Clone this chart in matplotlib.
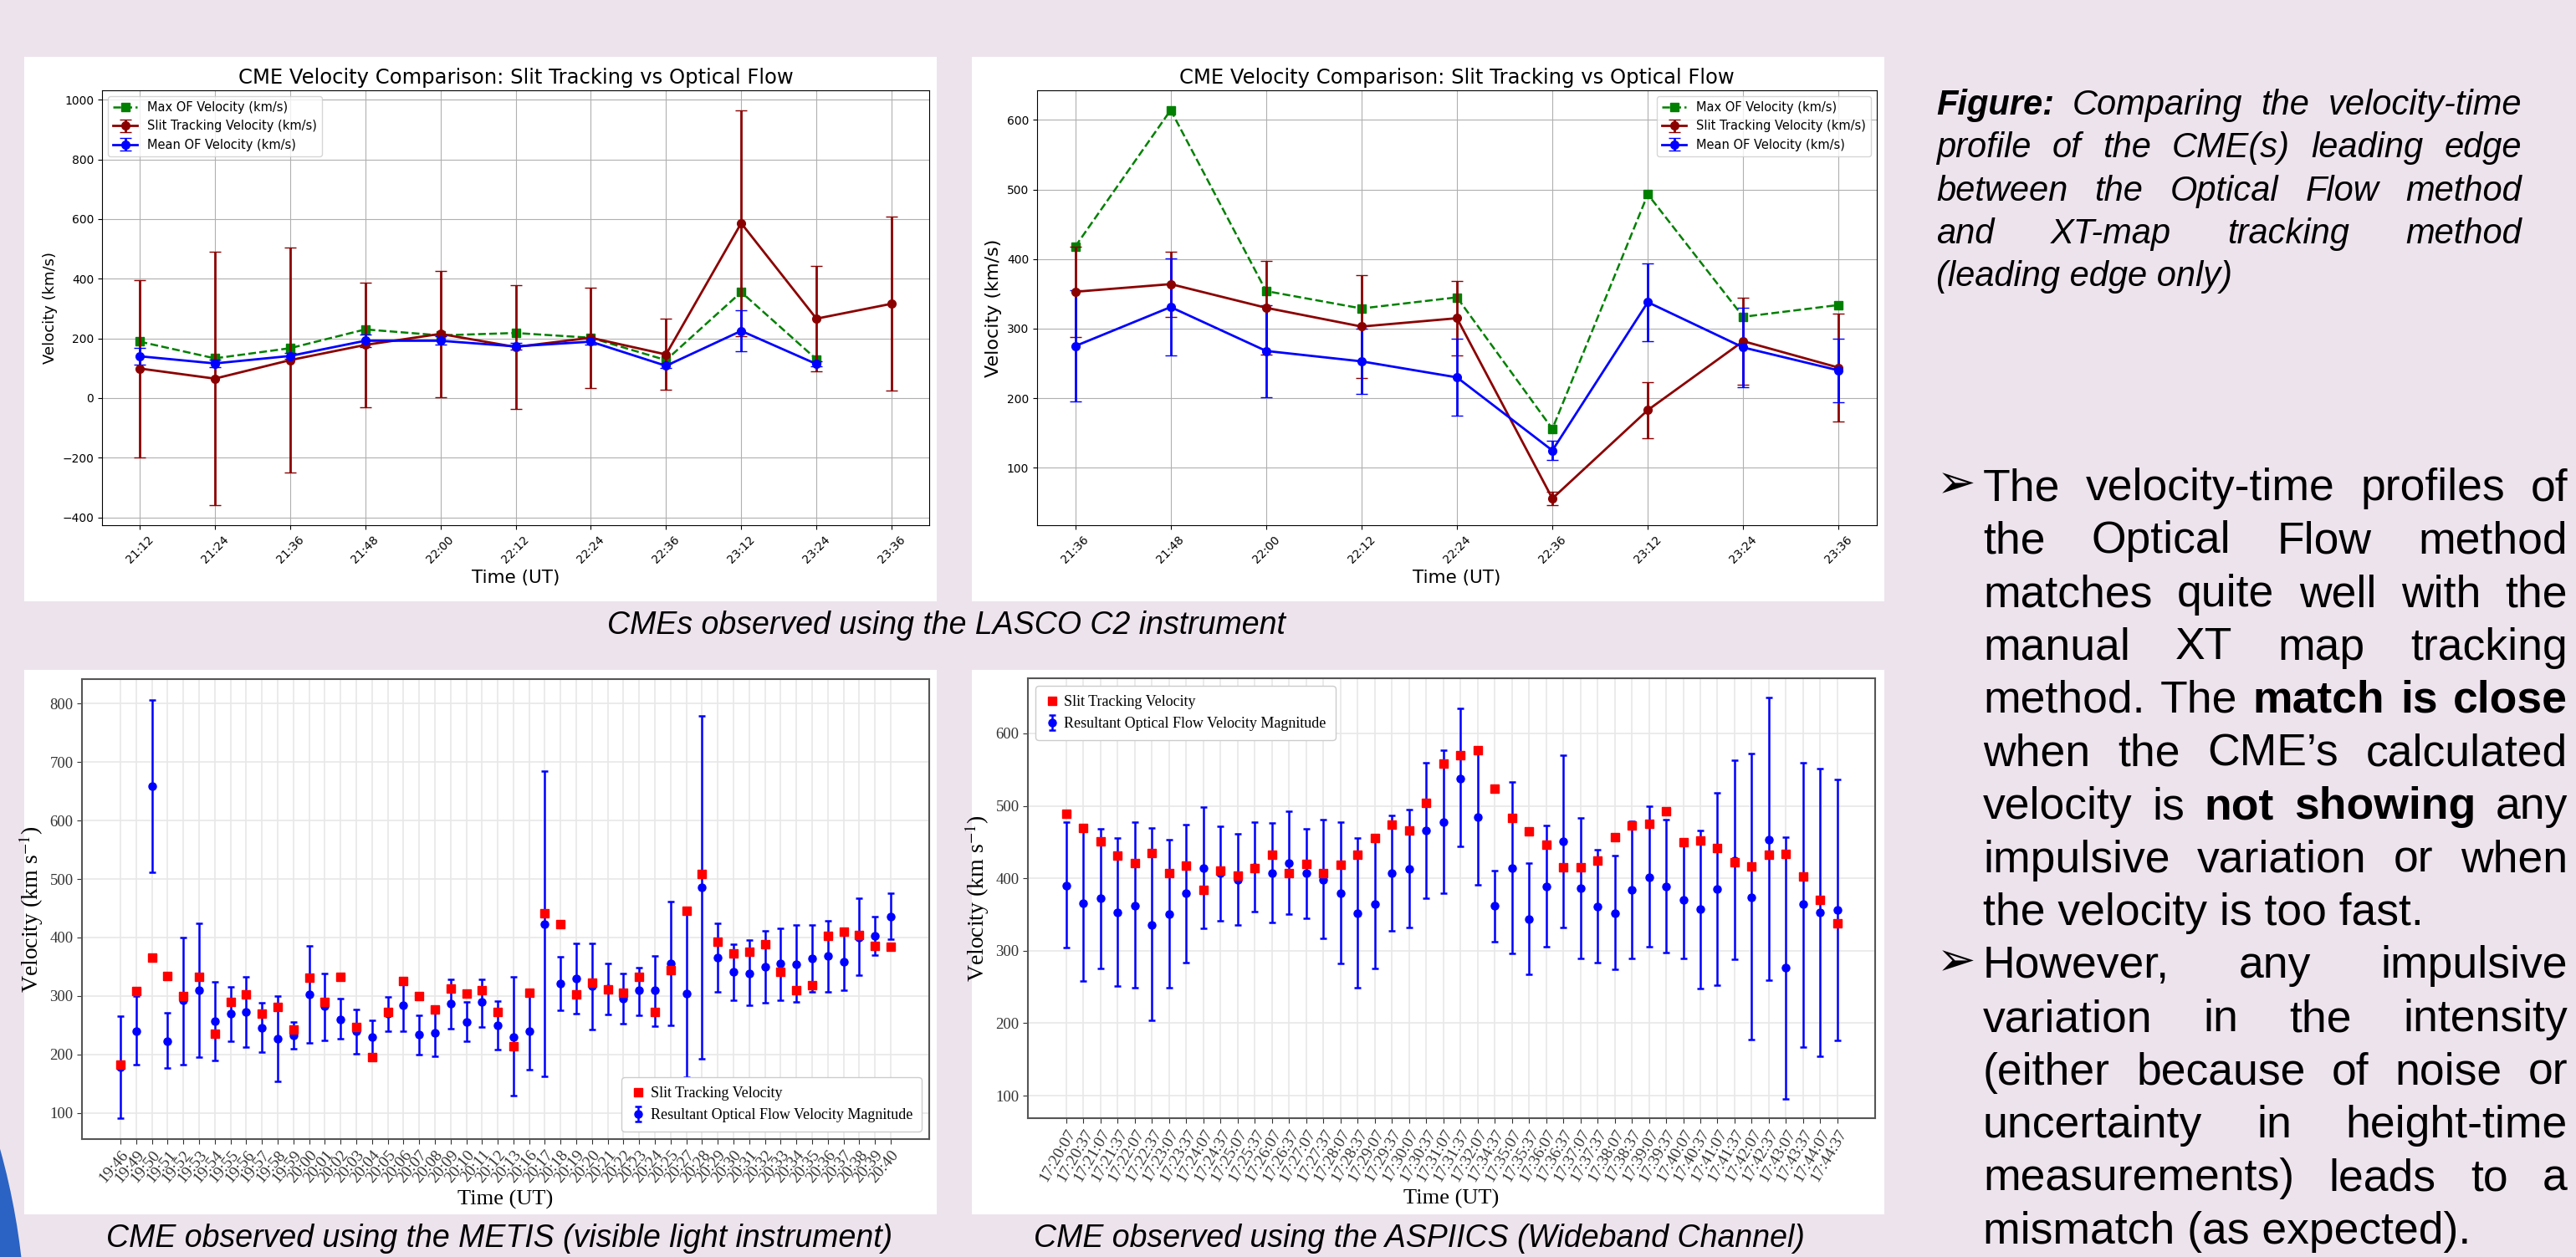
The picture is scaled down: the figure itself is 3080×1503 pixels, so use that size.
import numpy as np
import matplotlib.pyplot as plt
from matplotlib.patches import Rectangle, Ellipse

W, H = 3080, 1503
BG = '#ede3ed'

# ---- LASCO C2, first event (top left) ----
lasco1_times = ['21:12', '21:24', '21:36', '21:48', '22:00', '22:12', '22:24', '22:36', '23:12', '23:24', '23:36']
lasco1_max_of = [189, 133, 167, 230, 210, 218, 202, 127, 355, 130, np.nan]
lasco1_slit = [99, 65, 127, 178, 215, 171, 202, 146, 586, 266, 316]
lasco1_slit_err = [297, 425, 378, 209, 212, 207, 169, 119, 379, 177, 291]
lasco1_mean_of = [140, 116, 141, 192, 192, 173, 189, 108, 225, 114, np.nan]
lasco1_mean_err = [28, 12, 10, 21, 14, 12, 10, 8, 68, 8, np.nan]

# ---- LASCO C2, second event (top right) ----
lasco2_times = ['21:36', '21:48', '22:00', '22:12', '22:24', '22:36', '23:12', '23:24', '23:36']
lasco2_max_of = [418, 614, 354, 329, 345, 156, 493, 317, 334]
lasco2_slit = [353, 364, 330, 303, 315, 56, 183, 282, 244]
lasco2_slit_err = [65, 47, 67, 74, 54, 10, 40, 62, 78]
lasco2_mean_of = [275, 331, 268, 253, 230, 125, 338, 273, 240]
lasco2_mean_err = [80, 70, 66, 47, 55, 14, 56, 57, 46]

# ---- METIS (bottom left) ----
metis_times = ['19:46', '19:49', '19:50', '19:51', '19:52', '19:53', '19:54', '19:55', '19:56', '19:57',
               '19:58', '19:59', '20:00', '20:01', '20:02', '20:03', '20:04', '20:05', '20:06', '20:07',
               '20:08', '20:09', '20:10', '20:11', '20:12', '20:13', '20:16', '20:17', '20:18', '20:19',
               '20:20', '20:21', '20:22', '20:23', '20:24', '20:25', '20:27', '20:28', '20:29', '20:30',
               '20:31', '20:32', '20:33', '20:34', '20:35', '20:36', '20:37', '20:38', '20:39', '20:40']
metis_slit = [183, 308, 365, 334, 299, 332, 236, 290, 302, 270, 281, 243, 331, 290, 332, 247, 195, 272, 325, 300,
              277, 313, 304, 309, 273, 214, 305, 441, 423, 302, 322, 311, 305, 333, 272, 344, 446, 509, 392, 372,
              376, 389, 341, 310, 319, 403, 410, 404, 385, 384]
metis_of = [178, 239, 659, 223, 292, 309, 257, 269, 272, 245, 226, 233, 303, 282, 260, 239, 230, 269, 284, 234,
            237, 287, 256, 289, 249, 230, 239, 423, 321, 330, 317, 313, 296, 309, 309, 356, 304, 486, 365, 341,
            339, 350, 355, 354, 364, 368, 359, 400, 402, 435]
metis_of_hi = [266, 299, 806, 271, 400, 424, 324, 315, 332, 288, 299, 255, 386, 338, 295, 277, 258, 298, 329, 267,
               280, 329, 290, 329, 291, 333, 304, 685, 367, 390, 390, 356, 339, 349, 368, 462, 447, 779, 424, 389,
               395, 412, 415, 421, 421, 429, 409, 467, 435, 475]
metis_of_lo = [91, 182, 512, 176, 183, 195, 190, 222, 212, 204, 154, 210, 220, 224, 227, 201, 200, 239, 240, 200,
               196, 244, 223, 247, 208, 130, 174, 162, 276, 270, 243, 268, 252, 267, 248, 250, 161, 193, 307, 293,
               284, 288, 293, 289, 307, 307, 309, 335, 370, 397]

# ---- ASPIICS (bottom right) ----
aspiics_times = ['17:20:07', '17:20:37', '17:21:07', '17:21:37', '17:22:07', '17:22:37', '17:23:07', '17:23:37',
                 '17:24:07', '17:24:37', '17:25:07', '17:25:37', '17:26:07', '17:26:37', '17:27:07', '17:27:37',
                 '17:28:07', '17:28:37', '17:29:07', '17:29:37', '17:30:07', '17:30:37', '17:31:07', '17:31:37',
                 '17:32:07', '17:34:37', '17:35:07', '17:35:37', '17:36:07', '17:36:37', '17:37:07', '17:37:37',
                 '17:38:07', '17:38:37', '17:39:07', '17:39:37', '17:40:07', '17:40:37', '17:41:07', '17:41:37',
                 '17:42:07', '17:42:37', '17:43:07', '17:43:37', '17:44:07', '17:44:37']
aspiics_slit = [489, 470, 451, 431, 421, 435, 407, 417, 384, 411, 404, 414, 432, 407, 420, 407, 419, 432, 456, 474,
                466, 504, 558, 570, 577, 524, 483, 465, 446, 415, 415, 425, 457, 473, 475, 493, 450, 452, 442, 422,
                416, 433, 434, 402, 370, 338]
aspiics_of = [390, 365, 372, 353, 362, 336, 351, 379, 414, 407, 398, 415, 407, 421, 407, 398, 380, 352, 364, 407,
              413, 466, 478, 538, 484, 362, 414, 344, 389, 451, 386, 361, 352, 384, 401, 389, 370, 357, 385, 424,
              374, 453, 277, 364, 353, 356]
aspiics_of_hi = [477, 472, 468, 456, 477, 469, 453, 474, 498, 472, 461, 478, 476, 493, 468, 481, 477, 456, 452, 487,
                 495, 560, 577, 635, 577, 411, 533, 421, 473, 570, 483, 439, 431, 479, 499, 481, 451, 466, 518, 563,
                 572, 649, 457, 560, 551, 536]
aspiics_of_lo = [304, 258, 276, 251, 249, 204, 249, 284, 331, 341, 336, 354, 339, 350, 345, 317, 283, 249, 276, 327,
                 332, 373, 379, 444, 391, 313, 296, 267, 305, 332, 289, 284, 274, 289, 305, 298, 289, 248, 253, 288,
                 177, 259, 96, 167, 154, 176]

plt.rcParams['mathtext.fontset'] = 'stix'


def box(x0, y0, x1, y1):
    # pixel box (top-left origin) -> figure fraction
    return [x0 / W, 1 - y1 / H, (x1 - x0) / W, (y1 - y0) / H]


fig = plt.figure(figsize=(W / 100, H / 100), dpi=100, facecolor=BG)

# white panels behind the four plots
for b in [(29, 68, 1120, 719), (1162, 68, 2253, 719), (29, 801, 1120, 1452), (1162, 801, 2253, 1452)]:
    l, bt, w, h = box(*b)
    fig.add_artist(Rectangle((l, bt), w, h, transform=fig.transFigure, facecolor='white',
                             edgecolor='none', zorder=-1))

# blue decoration in the lower left corner of the poster
fig.add_artist(Ellipse((-812 / W, 1 - 1600 / H), 2 * 843 / W, 2 * 843 / H, transform=fig.transFigure,
                       facecolor='#2a63c4', edgecolor='none', zorder=-1))


def lasco_panel(ax, times, max_of, slit, slit_err, mean_of, mean_err, loc, ylab_size):
    x = np.arange(len(times))
    ax.plot(x, max_of, '--s', color='green', lw=1.8, ms=7, label='Max OF Velocity (km/s)')
    ax.errorbar(x, slit, yerr=slit_err, fmt='-o', color='darkred', lw=2, ms=7, capsize=5,
                label='Slit Tracking Velocity (km/s)')
    ax.errorbar(x, mean_of, yerr=mean_err, fmt='-o', color='blue', lw=2, ms=7, capsize=5,
                label='Mean OF Velocity (km/s)')
    ax.set_xticks(x, times, rotation=45, fontsize=10)
    ax.tick_params(axis='y', labelsize=10)
    ax.set_title('CME Velocity Comparison: Slit Tracking vs Optical Flow', fontsize=17.5)
    ax.set_xlabel('Time (UT)', fontsize=15.5)
    ax.set_ylabel('Velocity (km/s)', fontsize=ylab_size)
    ax.grid(True)
    ax.legend(loc=loc, fontsize=10.5)


ax1 = fig.add_axes(box(122, 108, 1111, 628))
lasco_panel(ax1, lasco1_times, lasco1_max_of, lasco1_slit, lasco1_slit_err, lasco1_mean_of, lasco1_mean_err,
            'upper left', 13)
ax2 = fig.add_axes(box(1240, 108, 2244, 628))
lasco_panel(ax2, lasco2_times, lasco2_max_of, lasco2_slit, lasco2_slit_err, lasco2_mean_of, lasco2_mean_err,
            'upper right', 16)


def cor_panel(ax, times, slit, of, lo, hi, loc, rot, xlim, ylim, yticks):
    x = np.arange(len(times))
    of = np.array(of, dtype=float)
    yerr = [of - np.array(lo), np.array(hi) - of]
    ax.plot(x, slit, 's', color='red', ms=7, ls='none', label='Slit Tracking Velocity', zorder=4)
    ax.errorbar(x, of, yerr=yerr, fmt='o', color='blue', ms=6.5, elinewidth=1.8, capsize=3, capthick=1.8,
                label='Resultant Optical Flow Velocity Magnitude', zorder=3)
    ax.set_xticks(x, times, rotation=rot, ha='right', rotation_mode='anchor',
                  fontsize=14, family='Liberation Serif')
    ax.set_yticks(yticks)
    ax.set_yticklabels([str(v) for v in yticks], fontsize=13.5, family='Liberation Serif')
    ax.set_xlim(*xlim)
    ax.set_ylim(*ylim)
    ax.grid(True, color='#e8e8e8', lw=1.2)
    ax.set_axisbelow(True)
    for s in ax.spines.values():
        s.set_color('#555555')
        s.set_linewidth(1.5)
    ax.tick_params(colors='#333333', length=4)
    ax.set_xlabel('Time (UT)', fontsize=19, family='Liberation Serif')
    ax.set_ylabel(r'Velocity (km s$^{-1}$)', fontsize=20, family='Liberation Serif')
    leg = ax.legend(loc=loc, prop={'family': 'Liberation Serif', 'size': 13}, edgecolor='#cccccc',
                    handletextpad=0.3, handlelength=1.0, borderpad=0.6)
    leg.get_frame().set_alpha(1)


ax3 = fig.add_axes(box(98, 812, 1111, 1362))
cor_panel(ax3, metis_times, metis_slit, metis_of, metis_of_lo, metis_of_hi, 'lower right', 50,
          (-2.45, 51.45), (55, 842), [100, 200, 300, 400, 500, 600, 700, 800])
ax4 = fig.add_axes(box(1229, 811, 2242, 1337))
cor_panel(ax4, aspiics_times, aspiics_slit, aspiics_of, aspiics_of_lo, aspiics_of_hi, 'upper left', 60,
          (-2.24, 47.2), (69, 676), [100, 200, 300, 400, 500, 600])

# captions under the panels
cap = dict(fontsize=27, style='italic', family='Liberation Sans', ha='center', va='center')
fig.text(1131 / W, 1 - 748 / H, 'CMEs observed using the LASCO C2 instrument', **cap)
fig.text(597 / W, 1 - 1481 / H, 'CME observed using the METIS (visible light instrument)', **cap)
fig.text(1697 / W, 1 - 1481 / H, 'CME observed using the ASPIICS (Wideband Channel)', **cap)

renderer = fig.canvas.get_renderer()


def draw_lines(lines, x0, x1, base0, step, size, style):
    # justified lines; words wrapped in * are bold
    for i, (line, just) in enumerate(lines):
        y = 1 - (base0 + i * step) / H
        if not just:
            fig.text(x0 / W, y, line, fontsize=size, style=style, family='Liberation Sans', va='baseline')
            continue
        words = line.split(' ')
        arts = []
        for w in words:
            bold = w.startswith('*')
            arts.append(fig.text(0, y, w.strip('*'), fontsize=size, style=style, family='Liberation Sans',
                                 fontweight='bold' if bold else 'normal', va='baseline'))
        widths = [a.get_window_extent(renderer).width for a in arts]
        gap = ((x1 - x0) - sum(widths)) / (len(words) - 1)
        xp = x0
        for a, wd in zip(arts, widths):
            a.set_x(xp / W)
            xp += wd + gap


fig_lines = [
    ('*Figure:* Comparing the velocity-time', True),
    ('profile of the CME(s) leading edge', True),
    ('between the Optical Flow method', True),
    ('and XT-map tracking method', True),
    ('(leading edge only)', False),
]
draw_lines(fig_lines, 2315, 3015, 137, 51.3, 30, 'italic')

bullet_lines = [
    ('The velocity-time profiles of', True),
    ('the Optical Flow method', True),
    ('matches quite well with the', True),
    ('manual XT map tracking', True),
    ('method. The *match* *is* *close*', True),
    ('when the CME\u2019s calculated', True),
    ('velocity is *not* *showing* any', True),
    ('impulsive variation or when', True),
    ('the velocity is too fast.', False),
    ('However, any impulsive', True),
    ('variation in the intensity', True),
    ('(either because of noise or', True),
    ('uncertainty in height-time', True),
    ('measurements) leads to a', True),
    ('mismatch (as expected).', False),
]
draw_lines(bullet_lines, 2371, 3070, 598, 63.5, 38.5, 'normal')
for k in (0, 9):
    fig.text(2316 / W, 1 - (595 + k * 63.5) / H, '\u27a2', fontsize=40, family='DejaVu Sans', va='baseline')

fig.savefig('out.png', dpi=100, facecolor=BG)
